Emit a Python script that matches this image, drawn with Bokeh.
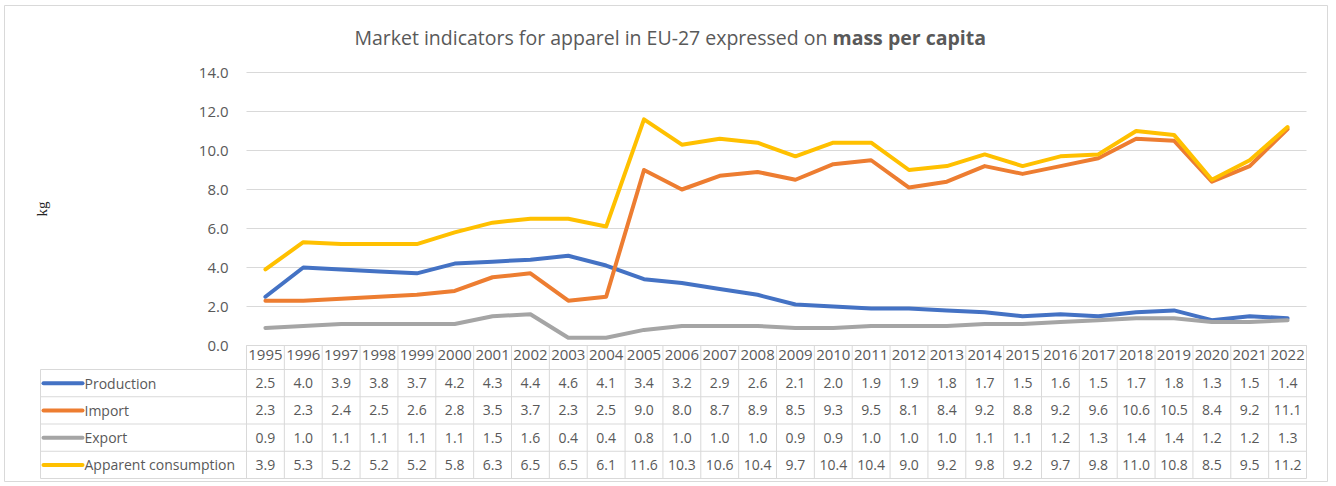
from bokeh.plotting import figure
from bokeh.models import Range1d, FixedTicker, Label, LinearAxis, Grid
from bokeh.embed import file_html
from bokeh.resources import INLINE

years = [str(y) for y in range(1995, 2023)]
production = [2.5, 4.0, 3.9, 3.8, 3.7, 4.2, 4.3, 4.4, 4.6, 4.1, 3.4, 3.2, 2.9, 2.6,
              2.1, 2.0, 1.9, 1.9, 1.8, 1.7, 1.5, 1.6, 1.5, 1.7, 1.8, 1.3, 1.5, 1.4]
imports = [2.3, 2.3, 2.4, 2.5, 2.6, 2.8, 3.5, 3.7, 2.3, 2.5, 9.0, 8.0, 8.7, 8.9,
           8.5, 9.3, 9.5, 8.1, 8.4, 9.2, 8.8, 9.2, 9.6, 10.6, 10.5, 8.4, 9.2, 11.1]
exports = [0.9, 1.0, 1.1, 1.1, 1.1, 1.1, 1.5, 1.6, 0.4, 0.4, 0.8, 1.0, 1.0, 1.0,
           0.9, 0.9, 1.0, 1.0, 1.0, 1.1, 1.1, 1.2, 1.3, 1.4, 1.4, 1.2, 1.2, 1.3]
apparent = [3.9, 5.3, 5.2, 5.2, 5.2, 5.8, 6.3, 6.5, 6.5, 6.1, 11.6, 10.3, 10.6, 10.4,
            9.7, 10.4, 10.4, 9.0, 9.2, 9.8, 9.2, 9.7, 9.8, 11.0, 10.8, 8.5, 9.5, 11.2]
series_names = ["Production", "Import", "Export", "Apparent consumption"]
series_values = [production, imports, exports, apparent]
series_colors = ["#4472C4", "#ED7D31", "#A5A5A5", "#FFC000"]
y_ticks = [0, 2, 4, 6, 8, 10, 12, 14]

FONT = "Open Sans"
TXT = "#595959"
GRID = "#d9d9d9"

n = len(years)
centers = [i + 0.5 for i in range(n)]
bounds = list(range(n + 1))

# ---- layout (page pixels of the reference) ----
PX, PY = 4, 5                 # figure offset on the page
W, H = 1324, 477
FRAME_L, FRAME_R = 246, 1306  # plot area left/right
Y14, Y0 = 72, 345             # page y of 14.0 and 0.0
cw = (FRAME_R - FRAME_L) / n
ky = (Y0 - Y14) / 14.0

def px_x(page_x):
    return (page_x - FRAME_L) / cw

def px_y(page_y):
    return (Y0 - page_y) / ky

p = figure(width=W, height=H, output_backend="svg", toolbar_location=None,
           x_range=Range1d(px_x(PX), px_x(PX + W)),
           y_range=Range1d(px_y(PY + H), px_y(PY)),
           x_axis_location=None, y_axis_location=None,
           min_border=0, min_border_left=0, min_border_right=0,
           min_border_top=0, min_border_bottom=0)
p.margin = (PY, 0, 0, PX)
p.center = []
p.outline_line_color = GRID
p.outline_line_width = 1

# y axis fixed at the left edge of the plot area
ya = LinearAxis(fixed_location=0, bounds=(0, 14))
ya.ticker = FixedTicker(ticks=y_ticks)
ya.major_label_overrides = {t: f"{t:.1f}" for t in y_ticks}
ya.axis_line_color = None
ya.major_tick_line_color = None
ya.minor_tick_line_color = None
ya.major_label_standoff = 12
ya.major_label_text_font = FONT
ya.major_label_text_font_size = "15px"
ya.major_label_text_color = TXT
ya.axis_label = "kg"
ya.axis_label_text_font = "Liberation Serif"
ya.axis_label_text_font_style = "normal"
ya.axis_label_text_font_size = "15px"
ya.axis_label_text_color = "#262626"
ya.axis_label_standoff = 146
p.add_layout(ya, "left")

# x axis (year header row) fixed at y = 0
xa = LinearAxis(fixed_location=0, bounds=(0, n))
xa.ticker = FixedTicker(ticks=centers)
xa.major_label_overrides = {c: y for c, y in zip(centers, years)}
xa.axis_line_color = GRID
xa.major_tick_line_color = None
xa.major_tick_out = 0
xa.major_tick_in = 0
xa.minor_tick_line_color = None
xa.minor_tick_out = 0
xa.minor_tick_in = 0
xa.major_label_standoff = 4
xa.major_label_text_font = FONT
xa.major_label_text_font_size = "15px"
xa.major_label_text_color = TXT
p.add_layout(xa, "below")

g = Grid(dimension=1, ticker=FixedTicker(ticks=y_ticks), cross_bounds=(0, n),
         grid_line_color=GRID, grid_line_width=1)
p.add_layout(g)

for vals, col in zip(series_values, series_colors):
    p.line(centers, vals, line_width=4, line_color=col,
           line_join="round", line_cap="round")

# title (normal part + bold part)
title_y = px_y(37)
p.add_layout(Label(x=px_x(827), y=title_y,
                   text="Market indicators for apparel in EU-27 expressed on",
                   text_align="right", text_baseline="middle",
                   text_font=FONT, text_font_size="19.5px", text_color=TXT))
p.add_layout(Label(x=px_x(832), y=title_y, text="mass per capita",
                   text_align="left", text_baseline="middle",
                   text_font=FONT, text_font_size="19.5px", text_color=TXT,
                   text_font_style="bold"))

# ---- data table ----
TAB_TOP, RH = 369, 27.25
nrows = len(series_names)
row_lines = [px_y(TAB_TOP + RH * k) for k in range(nrows + 1)]
row_mid = [px_y(TAB_TOP + RH * (k + 0.5)) for k in range(nrows)]
left_edge = px_x(40)

p.segment(x0=[left_edge] * (nrows + 1), x1=[n] * (nrows + 1),
          y0=row_lines, y1=row_lines, line_color=GRID, line_width=1)
# column separators (from the axis down through the table)
p.segment(x0=bounds, x1=bounds, y0=[0] * len(bounds), y1=[row_lines[-1]] * len(bounds),
          line_color=GRID, line_width=1)
p.segment(x0=[left_edge], x1=[left_edge], y0=[row_lines[0]], y1=[row_lines[-1]],
          line_color=GRID, line_width=1)

for k, (name, vals, col) in enumerate(zip(series_names, series_values, series_colors)):
    yc = row_mid[k]
    p.segment(x0=[px_x(43)], x1=[px_x(82)], y0=[yc], y1=[yc],
              line_color=col, line_width=4, line_cap="round")
    p.text(x=[px_x(84)], y=[yc], text=[name], text_align="left",
           text_baseline="middle", text_font={"value": FONT},
           text_font_size="14px", text_color=TXT)
    p.text(x=centers, y=[yc] * n, text=[f"{v:.1f}" for v in vals],
           text_align="center", text_baseline="middle",
           text_font={"value": FONT}, text_font_size="14px", text_color=TXT)

open("out.html", "w").write(file_html(p, INLINE))
